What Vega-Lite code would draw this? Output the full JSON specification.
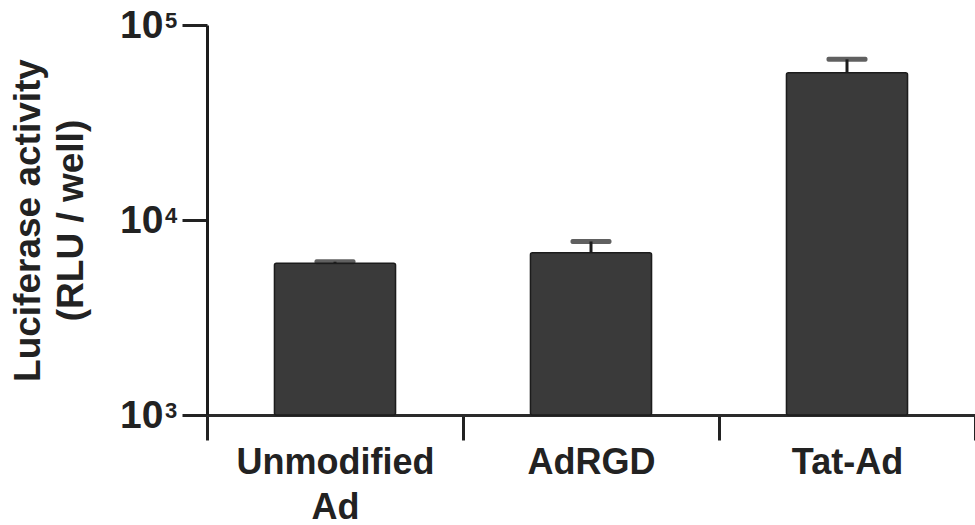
{
  "$schema": "https://vega.github.io/schema/vega-lite/v6.json",
  "width": 768,
  "height": 390,
  "autosize": {"type": "none"},
  "padding": {"left": 207, "top": 25, "right": 0, "bottom": 110},
  "background": "white",
  "config": {
    "view": {"stroke": null},
    "axis": {"grid": false}
  },
  "datasets": {
    "bars": [
      {"group": "Unmodified Ad", "value": 6000, "upper": 6110},
      {"group": "AdRGD", "value": 6790, "upper": 7760},
      {"group": "Tat-Ad", "value": 56900, "upper": 66700}
    ],
    "ticks": [
      {"tick": 1000, "sup": "3"},
      {"tick": 10000, "sup": "4"},
      {"tick": 100000, "sup": "5"}
    ]
  },
  "data": {"name": "bars"},
  "encoding": {
    "x": {
      "field": "group",
      "type": "nominal",
      "sort": ["Unmodified Ad", "AdRGD", "Tat-Ad"],
      "scale": {"paddingInner": 0, "paddingOuter": 0},
      "axis": {
        "title": null,
        "tickBand": "extent",
        "labelAngle": 0,
        "labelLimit": 0,
        "labelExpr": "datum.label == 'Unmodified Ad' ? ['Unmodified', 'Ad'] : datum.label",
        "labelFont": "Liberation Sans",
        "labelFontWeight": "bold",
        "labelFontSize": 36,
        "labelLineHeight": 45,
        "labelColor": "#222222",
        "labelPadding": 5,
        "labelBaseline": "top",
        "domainColor": "#2a2a2a",
        "domainWidth": 3,
        "tickColor": "#222222",
        "tickWidth": 3,
        "tickSize": 25
      }
    }
  },
  "layer": [
    {
      "mark": {"type": "bar", "width": {"band": 0.473}, "fill": "#3a3a3a", "stroke": "#1c1c1c", "strokeWidth": 1.5, "cornerRadius": 2},
      "encoding": {
        "y": {
          "field": "value",
          "type": "quantitative",
          "scale": {"type": "log", "domain": [1000, 100000], "nice": false},
          "axis": {
            "values": [1000, 10000, 100000],
            "labelExpr": "'10'",
            "labelFont": "Liberation Sans",
            "labelFontWeight": "bold",
            "labelFontSize": 39,
            "labelColor": "#222222",
            "labelPadding": 19,
            "labelBaseline": "middle",
            "domainColor": "#1c1c1c",
            "domainWidth": 3,
            "tickColor": "#222222",
            "tickWidth": 3,
            "tickSize": 25,
            "title": ["Luciferase activity", "(RLU / well)"],
            "titleFont": "Liberation Sans",
            "titleFontWeight": "bold",
            "titleFontSize": 37,
            "titleLineHeight": 43,
            "titleColor": "#222222",
            "titleAngle": -90,
            "titleAlign": "center",
            "titleBaseline": "alphabetic",
            "titleX": -168
          }
        },
        "y2": {"datum": 1000}
      }
    },
    {
      "mark": {"type": "rule", "color": "#1c1c1c", "strokeWidth": 3},
      "encoding": {
        "y": {"field": "value", "type": "quantitative"},
        "y2": {"field": "upper"}
      }
    },
    {
      "mark": {"type": "tick", "color": "#1c1c1c", "size": 41, "thickness": 5, "cornerRadius": 2},
      "encoding": {
        "y": {"field": "upper", "type": "quantitative"}
      }
    },
    {
      "data": {"name": "ticks"},
      "mark": {"type": "text", "font": "Liberation Sans", "fontWeight": "bold", "fontSize": 22, "color": "#222222", "align": "left", "baseline": "alphabetic", "dx": -42, "dy": 3},
      "encoding": {
        "x": {"datum": "Unmodified Ad", "bandPosition": 0},
        "y": {"field": "tick", "type": "quantitative"},
        "text": {"field": "sup"}
      }
    }
  ]
}
